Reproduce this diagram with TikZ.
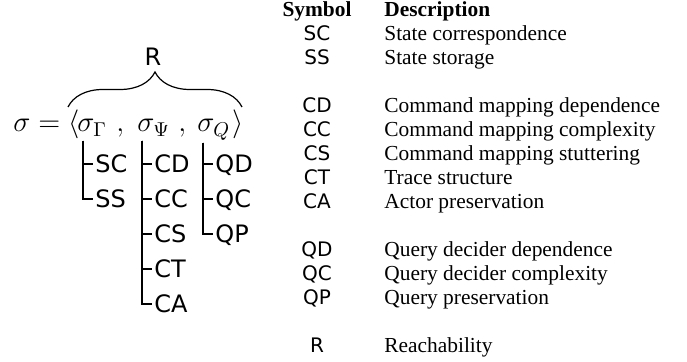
\documentclass[tikz,border=0pt]{standalone}
\usepackage{fontspec}
\setmainfont{Liberation Serif}
\setsansfont{DejaVu Sans}
\usepackage{tikz}
\usetikzlibrary{decorations.pathreplacing}

\tikzset{
	part/.style={anchor=base west, inner sep=0pt, font=\Large},
	leaf/.style={anchor=west, inner xsep=1pt, inner ysep=0pt, text height=8.75pt, text depth=0pt, font=\sffamily\large},
	branch/.style={semithick},
	cell/.style={inner sep=0pt, font=\fontsize{10.7pt}{12pt}\selectfont},
}

\begin{document}
\begin{tikzpicture}[x=0.5pt,y=-0.5pt]
	\useasboundingbox (0,0) rectangle (687,362);
	% state vector
	\node [part] (eq-lhs) at (13,132) {$\sigma = \langle$};
	\node [part] (sig-gam) at (77,132) {$\sigma_\Gamma$};
	\node [part] (comma-1) at (116,132) {$,$};
	\node [part] (sig-psi) at (137,132) {$\sigma_\Psi$};
	\node [part] (comma-2) at (178,132) {$,$};
	\node [part] (sig-q) at (197,132) {$\sigma_Q$};
	\node [part] (eq-rang) at (232,132) {$\rangle$};
	% brace
	\coordinate (brace-l) at (68,107);
	\coordinate (brace-r) at (242,107);
	\draw [branch, decorate, decoration={brace,amplitude=17.5pt}] (brace-l) -- (brace-r);
	\node [anchor=base, inner sep=0pt, font=\sffamily\large] (reach) at (153,66) {R};
	% tree roots
	\coordinate (gam-root) at ([shift={(3pt,-2pt)}]sig-gam.south west);
	\coordinate (psi-root) at ([shift={(2.5pt,-2pt)}]sig-psi.south west);
	\coordinate (q-root) at ([shift={(3pt,-1pt)}]sig-q.south west);
	% leaves
	\foreach \lbl/\row in {SC/0,SS/1} {
		\node [leaf] (leaf-\lbl) at (93,164+35*\row) {\lbl};
		\draw [branch] (gam-root) |- (leaf-\lbl.west);
	}
	\foreach \lbl/\row in {CD/0,CC/1,CS/2,CT/3,CA/4} {
		\node [leaf] (leaf-\lbl) at (152,164+35*\row) {\lbl};
		\draw [branch] (psi-root) |- (leaf-\lbl.west);
	}
	\foreach \lbl/\row in {QD/0,QC/1,QP/2} {
		\node [leaf] (leaf-\lbl) at (213,164+35*\row) {\lbl};
		\draw [branch] (q-root) |- (leaf-\lbl.west);
	}
	% legend
	\node [cell, anchor=base] (head-sym) at (317,17) {\textbf{Symbol}};
	\node [cell, anchor=base west] (head-desc) at (384,17) {\textbf{Description}};
	\foreach \row/\lbl/\desc in {1/SC/State correspondence, 2/SS/State storage,
		4/CD/Command mapping dependence, 5/CC/Command mapping complexity,
		6/CS/Command mapping stuttering, 7/CT/Trace structure, 8/CA/Actor preservation,
		10/QD/Query decider dependence, 11/QC/Query decider complexity,
		12/QP/Query preservation, 14/R/Reachability} {
		\node [cell, anchor=base, font=\sffamily] (sym-\lbl) at (317,17+24*\row) {\lbl};
		\node [cell, anchor=base west] (desc-\lbl) at (384,17+24*\row) {\desc};
	}

\end{tikzpicture}
\end{document}
